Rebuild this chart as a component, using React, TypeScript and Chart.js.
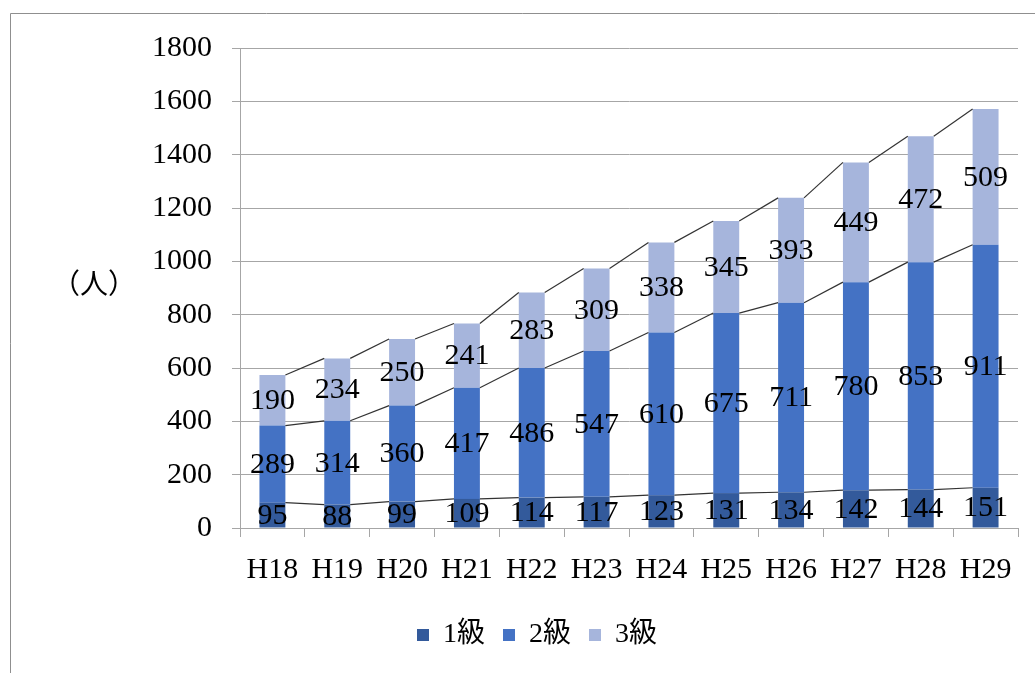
import React, { useEffect, useRef } from "react";
import { Chart, registerables } from "chart.js";

Chart.register(...registerables);

const categories = ["H18", "H19", "H20", "H21", "H22", "H23", "H24", "H25", "H26", "H27", "H28", "H29"];
const grade1 = [95, 88, 99, 109, 114, 117, 123, 131, 134, 142, 144, 151];
const grade2 = [289, 314, 360, 417, 486, 547, 610, 675, 711, 780, 853, 911];
const grade3 = [190, 234, 250, 241, 283, 309, 338, 345, 393, 449, 472, 509];
const seriesNames = ["1級", "2級", "3級"];
const seriesColors = ["#335a9b", "#4472c4", "#a6b5dc"];
const yTicks = [0, 200, 400, 600, 800, 1000, 1200, 1400, 1600, 1800];
const unitLabel = "（人）";

const FONT = '"Liberation Serif", "Noto Sans CJK JP", serif';

const decorPlugin = {
  id: "decor",
  beforeDraw(chart: any) {
    const ctx = chart.ctx;
    ctx.save();
    ctx.strokeStyle = "#8f8f8f";
    ctx.lineWidth = 1;
    ctx.beginPath();
    ctx.moveTo(10.5, 673);
    ctx.lineTo(10.5, 13.5);
    ctx.lineTo(1035, 13.5);
    ctx.stroke();
    ctx.restore();
  },
  afterDraw(chart: any) {
    const ctx = chart.ctx;
    ctx.save();
    ctx.fillStyle = "#000";
    ctx.font = "28px " + FONT;
    ctx.textAlign = "center";
    ctx.textBaseline = "middle";
    ctx.fillText(unitLabel, 94, 287);
    ctx.restore();
  },
};

const seriesLinePlugin = {
  id: "seriesLines",
  afterDatasetsDraw(chart: any) {
    const ctx = chart.ctx;
    ctx.save();
    ctx.strokeStyle = "#333333";
    ctx.lineWidth = 1.2;
    chart.data.datasets.forEach((_: any, d: number) => {
      const meta = chart.getDatasetMeta(d);
      for (let j = 0; j < meta.data.length - 1; j++) {
        const a = meta.data[j];
        const b = meta.data[j + 1];
        ctx.beginPath();
        ctx.moveTo(a.x + a.width / 2, a.y);
        ctx.lineTo(b.x - b.width / 2, b.y);
        ctx.stroke();
      }
    });
    ctx.restore();
  },
};

const labelPlugin = {
  id: "segLabels",
  afterDatasetsDraw(chart: any) {
    const ctx = chart.ctx;
    ctx.save();
    ctx.fillStyle = "#000";
    ctx.font = "30px " + FONT;
    ctx.textAlign = "center";
    ctx.textBaseline = "middle";
    chart.data.datasets.forEach((ds: any, d: number) => {
      const meta = chart.getDatasetMeta(d);
      meta.data.forEach((el: any, i: number) => {
        const y = (el.y + el.base) / 2;
        ctx.fillText(String(ds.data[i]), el.x, y + 1);
      });
    });
    ctx.restore();
  },
};

export default function App() {
  const ref = useRef<HTMLCanvasElement | null>(null);
  useEffect(() => {
    if (!ref.current) return;
    const chart = new Chart(ref.current, {
      type: "bar",
      data: {
        labels: categories,
        datasets: [grade1, grade2, grade3].map((data, i) => ({
          label: seriesNames[i],
          data,
          backgroundColor: seriesColors[i],
          borderWidth: 0,
          barPercentage: 0.4,
          categoryPercentage: 1,
        })),
      },
      options: {
        responsive: false,
        animation: false,
        layout: { padding: { left: 56, right: 17, top: 48, bottom: 14 } },
        plugins: {
          legend: {
            position: "bottom",
            labels: {
              font: { family: FONT, size: 28 },
              color: "#000",
              boxWidth: 12,
              boxHeight: 12,
              padding: 18,
            },
          },
          tooltip: { enabled: false },
        },
        scales: {
          x: {
            stacked: true,
            grid: {
              offset: true,
              drawOnChartArea: false,
              drawTicks: true,
              tickLength: 9,
              color: "#a6a6a6",
            },
            border: { color: "#a6a6a6" },
            ticks: {
              font: { family: FONT, size: 30 },
              color: "#000",
              padding: 15,
              maxRotation: 0,
              autoSkip: false,
            },
            afterFit(scale: any) {
              scale.height = 75;
            },
          },
          y: {
            stacked: true,
            min: 0,
            max: 1800,
            afterBuildTicks(scale: any) {
              scale.ticks = yTicks.map((v) => ({ value: v }));
            },
            grid: { color: "#a6a6a6", tickLength: 8 },
            border: { color: "#a6a6a6" },
            ticks: {
              font: { family: FONT, size: 30 },
              color: "#000",
              padding: 20,
              callback: (v: any) => String(v),
            },
            afterFit(scale: any) {
              scale.width = 184;
            },
          },
        },
      },
      plugins: [decorPlugin, seriesLinePlugin, labelPlugin],
    });
    return () => chart.destroy();
  }, []);
  return (
    <div style={{ position: "absolute", left: 0, top: 0, width: 1035, height: 673, background: "#fff" }}>
      <canvas ref={ref} width={1035} height={673} style={{ display: "block" }} />
    </div>
  );
}
